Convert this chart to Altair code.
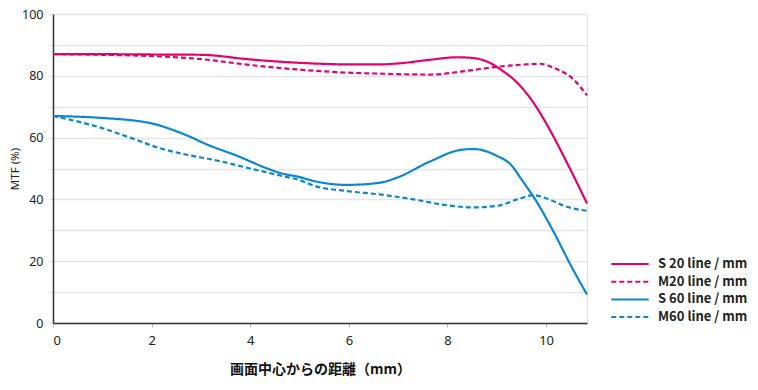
import altair as alt
import pandas as pd

# Data
s20_x = [0, 1, 2, 3, 4, 5, 6, 6.63, 7, 7.65, 8.19, 8.5, 8.86, 9.1, 9.34, 9.74, 10.01, 10.42, 10.83]
s20_y = [87, 87, 86.9, 86.8, 85.3, 84.2, 83.7, 83.7, 84.0, 85.2, 86, 85.8, 84.2, 81.8, 78.9, 71.4, 64.4, 52, 38.7]

m20_x = [0, 1, 2, 3, 4, 5, 6, 6.63, 7.65, 8.39, 9.0, 9.5, 9.88, 10.15, 10.55, 10.83]
m20_y = [87, 86.8, 86.4, 85.4, 83.5, 82, 81, 80.7, 80.4, 81.6, 82.9, 83.6, 83.9, 82.6, 78.9, 73.7]

s60_x = [0, 0.95, 1.97, 2.64, 3.18, 3.72, 4.33, 4.6, 5.01, 5.28, 5.96, 6.63, 6.97, 7.65, 8.26, 8.53, 9.0, 9.3, 9.5, 9.81, 10.15, 10.49, 10.83]
s60_y = [67, 66.4, 64.7, 61.2, 57.4, 54.2, 50.1, 48.6, 47.2, 46, 44.7, 45.4, 47, 52.3, 56, 56.3, 54.1, 51, 46.5, 39.2, 29.6, 19, 9.2]

m60_x = [0, 0.95, 1.63, 2.1, 2.64, 3.32, 4.0, 4.67, 5.01, 5.28, 5.96, 6.63, 7.31, 7.99, 8.53, 9.0, 9.47, 9.74, 10.01, 10.42, 10.83]
m60_y = [67, 63.3, 59.6, 56.9, 54.7, 52.6, 50, 47.5, 46.2, 44.5, 42.7, 41.6, 40, 38.1, 37.4, 37.9, 40.3, 41.4, 40.3, 37.6, 36.3]

series_names = ["S 20 line / mm", "M20 line / mm", "S 60 line / mm", "M60 line / mm"]
series_colors = ["#E6006E", "#E6006E", "#0A86D2", "#0A86D2"]
series_dash = [[1, 0], [5, 3], [1, 0], [5, 3]]

rows = []
for name, xs, ys in zip(series_names, [s20_x, m20_x, s60_x, m60_x], [s20_y, m20_y, s60_y, m60_y]):
    for i, (x, y) in enumerate(zip(xs, ys)):
        rows.append({"series": name, "x": x, "y": y, "order": i})
df = pd.DataFrame(rows)

font = "Noto Sans"

legend_kw = dict(title=None, orient="none", legendX=557, legendY=242,
                 symbolType="stroke", symbolSize=1400, symbolStrokeWidth=2,
                 clipHeight=16,
                 labelFont="Noto Sans CJK JP", labelFontSize=13,
                 labelFontWeight="bold", labelColor="#222222",
                 labelOffset=8, rowPadding=1.7)

chart = alt.Chart(df).mark_line(interpolate="monotone", strokeWidth=2.2).encode(
    x=alt.X("x:Q", scale=alt.Scale(domain=[0, 10.83], nice=False, zero=False),
            axis=alt.Axis(values=[0, 2, 4, 6, 8, 10], title="画面中心からの距離（mm）",
                          grid=False, tickSize=4, tickColor="#bbbbbb",
                          domainColor="#333333", domainWidth=1.5,
                          labelFont=font, labelFontSize=13, labelColor="#222222", labelPadding=7,
                          titleFont="Noto Sans CJK JP", titleFontSize=14, titleFontWeight="bold",
                          titleColor="#111111", titlePadding=15)),
    y=alt.Y("y:Q", scale=alt.Scale(domain=[0, 100], nice=False),
            axis=alt.Axis(values=list(range(0, 101, 10)), title="MTF (%)",
                          labelExpr="datum.value % 20 == 0 ? datum.label : ''",
                          grid=True, gridColor="#e6e6e6", gridWidth=1.5,
                          tickSize=4, tickColor="#dddddd",
                          domainColor="#333333", domainWidth=1.5,
                          labelFont=font, labelFontSize=12.5, labelColor="#222222", labelPadding=6,
                          titleFont=font, titleFontSize=11.5, titleFontWeight="normal",
                          titleColor="#222222", titlePadding=1)),
    color=alt.Color("series:N", sort=series_names,
                    scale=alt.Scale(domain=series_names, range=series_colors),
                    legend=alt.Legend(**legend_kw)),
    strokeDash=alt.StrokeDash("series:N", sort=series_names,
                              scale=alt.Scale(domain=series_names, range=series_dash),
                              legend=alt.Legend(**legend_kw)),
    order="order:Q",
).properties(
    width=534, height=309,
    autosize=alt.AutoSizeParams(type="none"),
    padding={"left": 45, "top": 6, "right": 163, "bottom": 55},
).configure_view(stroke=None).configure(background="white")

chart.save("out.html", embed_options={"renderer": "svg", "actions": False})
